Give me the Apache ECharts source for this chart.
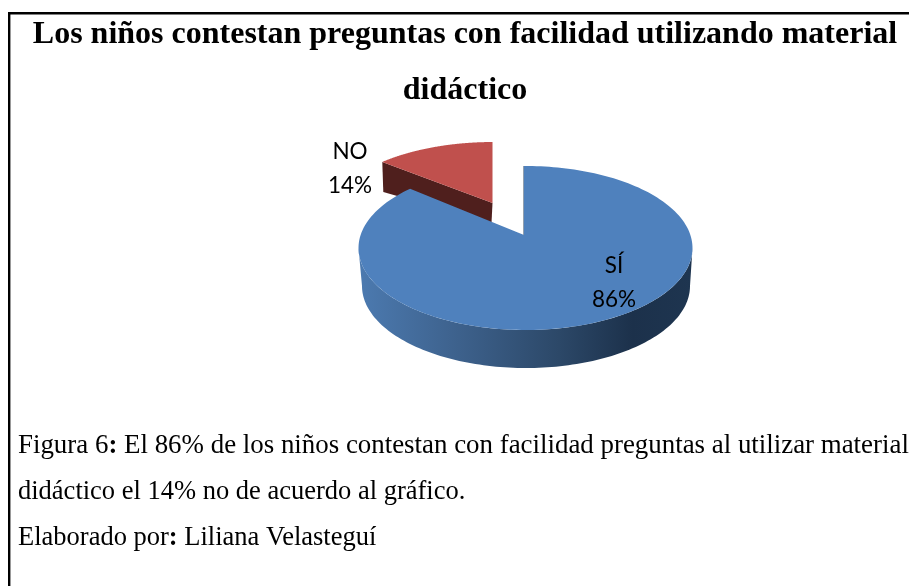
<!DOCTYPE html>
<html><head><meta charset="utf-8">
<style>html,body{margin:0;padding:0;background:#fff}#c{width:909px;height:586px}</style>
<script src="https://cdn.jsdelivr.net/npm/echarts@6/dist/echarts.min.js"></script>
</head><body><div id="c"></div>
<script>
const categories = ['SÍ', 'NO'];
const values = [86, 14];
const colours = ['#4f81bd', '#c0504d'];
const titleLines = ['Los niños contestan preguntas con facilidad utilizando material', 'didáctico'];

const SERIF = '"Liberation Serif","Times New Roman",serif';
const slices = [
  { apex:[524,235], c:[525.5,248], rx:167, ry:82, depth:38, z:2, label:[614,283] },
  { apex:[492.5,203], c:[493.5,215], rx:162, ry:73, depth:29, z:1, label:[350,168.5] }
];

function rim(s, theta) {
  const dx = s.rx*Math.sin(theta), dy = -s.ry*Math.cos(theta);
  const ax = (s.apex[0]-s.c[0])/s.rx, ay = (s.apex[1]-s.c[1])/s.ry;
  const bx = dx/s.rx, by = dy/s.ry;
  const A = bx*bx+by*by, B = 2*(ax*bx+ay*by), C = ax*ax+ay*ay-1;
  const k = (-B+Math.sqrt(B*B-4*A*C))/(2*A);
  return [s.apex[0]+k*dx, s.apex[1]+k*dy];
}

const total = values.reduce((a,b)=>a+b,0);
function renderItem(params, api) {
  const i = params.dataIndex, s = slices[i], v = api.value(1);
  const before = values.slice(0,i).reduce((a,b)=>a+b,0);
  const t0 = before/total*2*Math.PI, t1 = (before+v)/total*2*Math.PI;
  const top = [s.apex];
  for (let n=0;n<=180;n++) top.push(rim(s, t0+(t1-t0)*n/180));
  const children = [];
  if (i===0) {
    const wall = [];
    const bc=[s.c[0]+0.5, s.c[1]+s.depth], brx=s.rx-3;
    for (let n=0;n<=120;n++){const a=Math.PI*n/120; wall.push([s.c[0]+s.rx*Math.cos(a), s.c[1]+s.ry*Math.sin(a)]);}
    for (let n=120;n>=0;n--){const a=Math.PI*n/120; wall.push([bc[0]+brx*Math.cos(a), bc[1]+s.ry*Math.sin(a)]);}
    children.push({type:'polygon',z2:s.z,shape:{points:wall},style:{fill:{type:'linear',x:0,y:0,x2:1,y2:0,colorStops:[
      {offset:0,color:'#4c7ab0'},{offset:.3,color:'#3d618c'},{offset:.6,color:'#2c4868'},{offset:.82,color:'#1c314b'},{offset:1,color:'#1e3550'}]}}});
    children.push({type:'polyline',z2:s.z+1,shape:{points:[s.apex,rim(s,t0)]},style:{stroke:'#24405f',lineWidth:1,fill:null}});
  } else {
    const tip = rim(s,t0);
    children.push({type:'polygon',z2:s.z,shape:{points:[tip,s.apex,[s.apex[0]-1,s.apex[1]+20],[tip[0]+1,tip[1]+s.depth+1]]},style:{fill:'#4f1f1d'}});
  }
  children.push({type:'polygon',z2:s.z+1,shape:{points:top},style:{fill:api.visual('color')}});
  const name = categories[i];
  children.push({type:'text',z2:10,style:{text:name+'\n'+v+'%',x:s.label[0],y:s.label[1],fill:'#000',
    font:'22.5px Lato, "Open Sans", sans-serif',align:'center',verticalAlign:'middle',lineHeight:34}});
  return {type:'group',children};
}

function line(text,x,base,size,weight,align){return {type:'text',z:5,style:{text,x,y:base-0.8*size,fill:'#000',font:(weight||'normal')+' '+size+'px '+SERIF,align:align||'left'}};}
function cap(parts,x,base,size){return {type:'text',z:5,style:{x,y:base-0.8*size,text:parts,fill:'#000',font:size+'px '+SERIF,
  rich:{b:{font:'bold '+size+'px '+SERIF,fill:'#000'}}}};}

const chart = echarts.init(document.getElementById('c'));
chart.setOption({
  animation:false,
  backgroundColor:'#fff',
  graphic:[
    {type:'rect',shape:{x:8,y:12,width:901,height:2.4},style:{fill:'#000'}},
    {type:'rect',shape:{x:8,y:12,width:2.4,height:574},style:{fill:'#000'}},
    line(titleLines[0],465,44,32,'bold','center'),
    line(titleLines[1],465,100,32,'bold','center'),
    cap('Figura 6{b|:} El 86% de los niños contestan con facilidad preguntas al utilizar material',18,454,26.9),
    cap('didáctico el 14% no de acuerdo al gráfico.',18,500,26.5),
    cap('Elaborado por{b|:} Liliana Velasteguí',18,545.5,26.5)
  ],
  series:[{type:'custom',coordinateSystem:'none',renderItem,
    data:categories.map((c,i)=>({name:c,value:[i,values[i]],itemStyle:{color:colours[i]}})),
    silent:true}]
});
</script></body></html>
